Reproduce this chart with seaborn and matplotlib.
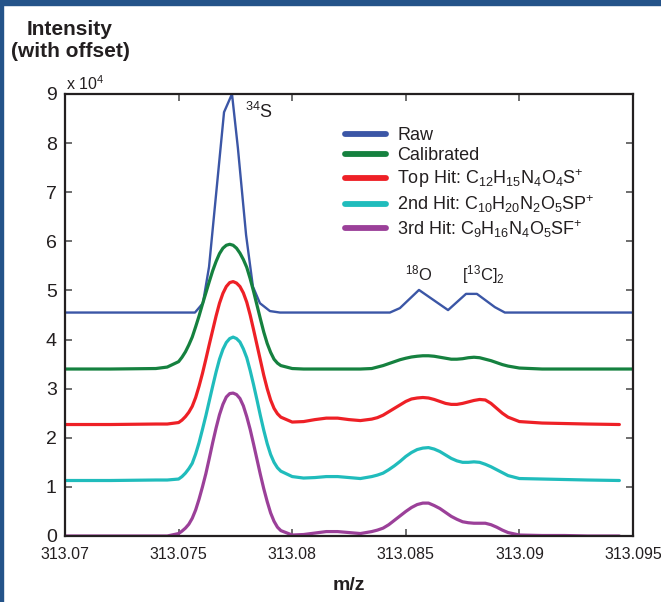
import matplotlib
matplotlib.use("Agg")
import matplotlib.pyplot as plt
from matplotlib import font_manager
from matplotlib.patches import Rectangle
import seaborn as sns
import pandas as pd

# ---------------- data ----------------
raw_x = [313.0700, 313.07572, 313.07607, 313.07634, 313.07700, 313.07735, 313.07761,
         313.07797, 313.07827, 313.07858, 313.07902, 313.07946, 313.08430, 313.08474,
         313.08558, 313.08686, 313.08765, 313.08813, 313.08892, 313.08936, 313.0950]
raw_y = [4.55, 4.55, 4.74, 5.48, 8.63, 9.00, 7.90,
         6.13, 5.08, 4.74, 4.58, 4.55, 4.55, 4.64,
         5.01, 4.60, 4.93, 4.93, 4.66, 4.55, 4.55]

mz = [313.0700, 313.0720, 313.0740, 313.0745, 313.0750,
      313.07515, 313.0753, 313.07545, 313.0756, 313.07575, 313.0759, 313.07605, 313.0762,
      313.07635, 313.0765, 313.07665, 313.0768, 313.07695, 313.0771, 313.07725, 313.0774,
      313.07755, 313.0777, 313.07785, 313.0780, 313.07815, 313.0783, 313.07845, 313.0786,
      313.07875, 313.0789, 313.07905, 313.0792, 313.07935, 313.0795,
      313.0800, 313.0805, 313.0810, 313.0815, 313.0820, 313.0825, 313.0830, 313.0835,
      313.08375, 313.0840, 313.08425, 313.0845, 313.08475, 313.0850, 313.08525, 313.0855,
      313.08575, 313.0860, 313.08625, 313.0865, 313.08675, 313.0870, 313.08725, 313.0875,
      313.08775, 313.0880, 313.08825, 313.0885, 313.08875, 313.0890, 313.08925, 313.0895,
      313.0900, 313.0910, 313.0920, 313.0930, 313.0944, 313.0950]

calibrated = [3.40, 3.40, 3.41, 3.44, 3.55,
              3.64, 3.75, 3.89, 4.05, 4.26, 4.48, 4.72, 4.95, 5.18, 5.40, 5.59, 5.75,
              5.86, 5.92, 5.94, 5.92, 5.86, 5.76, 5.63, 5.47, 5.24, 4.98, 4.70, 4.42,
              4.15, 3.92, 3.74, 3.60, 3.52, 3.47,
              3.41, 3.40, 3.40, 3.40, 3.40, 3.40, 3.40, 3.41,
              3.44, 3.47, 3.51, 3.55, 3.59, 3.62, 3.645, 3.66, 3.67, 3.67, 3.66, 3.64,
              3.62, 3.60, 3.60, 3.61, 3.63, 3.64, 3.63, 3.60, 3.57, 3.53, 3.49, 3.46,
              3.42, 3.40, 3.40, 3.40, 3.40, 3.40]
top_hit = [2.27, 2.27, 2.28, 2.28, 2.31,
           2.36, 2.43, 2.52, 2.64, 2.82, 3.05, 3.31, 3.60, 3.90, 4.19, 4.48, 4.74,
           4.94, 5.08, 5.16, 5.18, 5.15, 5.08, 4.95, 4.76, 4.50, 4.20, 3.89, 3.58,
           3.27, 3.00, 2.77, 2.60, 2.49, 2.42,
           2.32, 2.33, 2.37, 2.40, 2.40, 2.37, 2.35, 2.38,
           2.41, 2.46, 2.53, 2.60, 2.67, 2.74, 2.79, 2.81, 2.82, 2.81, 2.78, 2.74,
           2.70, 2.68, 2.68, 2.70, 2.73, 2.76, 2.78, 2.77, 2.70, 2.60, 2.50, 2.42,
           2.33, 2.30, 2.29, 2.28, 2.27]
second_hit = [1.13, 1.13, 1.14, 1.14, 1.16,
              1.21, 1.28, 1.37, 1.48, 1.67, 1.90, 2.17, 2.45, 2.75, 3.05, 3.34, 3.60,
              3.80, 3.94, 4.02, 4.05, 4.02, 3.95, 3.81, 3.63, 3.37, 3.08, 2.77, 2.45,
              2.15, 1.88, 1.66, 1.50, 1.39, 1.32,
              1.21, 1.18, 1.19, 1.21, 1.21, 1.19, 1.17, 1.21,
              1.24, 1.28, 1.35, 1.43, 1.52, 1.62, 1.70, 1.76, 1.79, 1.80, 1.77, 1.72,
              1.65, 1.58, 1.53, 1.50, 1.50, 1.51, 1.50, 1.46, 1.41, 1.35, 1.29, 1.23,
              1.17, 1.16, 1.15, 1.14, 1.13]
third_hit = [0.00, 0.00, 0.00, 0.00, 0.05,
             0.10, 0.16, 0.24, 0.36, 0.53, 0.75, 1.00, 1.27, 1.58, 1.90, 2.20, 2.47,
             2.68, 2.83, 2.90, 2.91, 2.88, 2.80, 2.65, 2.43, 2.17, 1.87, 1.56, 1.25,
             0.96, 0.70, 0.47, 0.30, 0.18, 0.11,
             0.02, 0.03, 0.06, 0.09, 0.09, 0.07, 0.05, 0.09,
             0.12, 0.16, 0.23, 0.32, 0.41, 0.50, 0.58, 0.64, 0.67, 0.67, 0.62, 0.56,
             0.48, 0.40, 0.34, 0.29, 0.27, 0.26, 0.26, 0.26, 0.23, 0.18, 0.12, 0.07,
             0.02, 0.01, 0.01, 0.00, 0.00]

labels = ["Raw", "Calibrated",
          r"Top Hit: C$_{12}$H$_{15}$N$_{4}$O$_{4}$S$^{+}$",
          r"2nd Hit: C$_{10}$H$_{20}$N$_{2}$O$_{5}$SP$^{+}$",
          r"3rd Hit: C$_{9}$H$_{16}$N$_{4}$O$_{5}$SF$^{+}$"]
colors = ["#3b56a6", "#15813f", "#ee2026", "#20bcbc", "#9b4099"]

xticks = [313.07, 313.075, 313.08, 313.085, 313.09, 313.095]
xtick_labels = ["313.07", "313.075", "313.08", "313.085", "313.09", "313.095"]
yticks = [0, 1, 2, 3, 4, 5, 6, 7, 8, 9]

# ---------------- style ----------------
sns.set_style("ticks")
avail = {f.name for f in font_manager.fontManager.ttflist}
main_font = "Liberation Sans" if "Liberation Sans" in avail else "DejaVu Sans"
plt.rcParams["font.family"] = [main_font, "DejaVu Sans"]
plt.rcParams["mathtext.fontset"] = "custom"
plt.rcParams["mathtext.rm"] = main_font
plt.rcParams["mathtext.it"] = main_font + ":italic"
plt.rcParams["mathtext.bf"] = main_font + ":bold"
plt.rcParams["mathtext.default"] = "regular"
txt = "#231f20"

fig = plt.figure(figsize=(6.61, 6.02), dpi=100)
ax = fig.add_axes([65 / 661, 1 - 536 / 602, 568 / 661, 442 / 602])

# blue frame
fig.patches.append(Rectangle((0, 1 - 5 / 602), 1, 5 / 602, transform=fig.transFigure,
                             color="#245389", zorder=0))
fig.patches.append(Rectangle((0, 0), 3 / 661, 1, transform=fig.transFigure,
                             color="#245389", zorder=0))

series = [
    (raw_x, raw_y, 1.7),
    (mz, calibrated, 2.3),
    (mz[:len(top_hit)], top_hit, 2.3),
    (mz[:len(second_hit)], second_hit, 2.3),
    (mz[:len(third_hit)], third_hit, 2.3),
]
for (xs, ys, lw), lab, col in zip(series, labels, colors):
    df = pd.DataFrame({"mz": xs, "intensity": ys})
    sns.lineplot(data=df, x="mz", y="intensity", ax=ax, color=col, linewidth=lw,
                 sort=False, estimator=None, label=lab)

ax.set_xlim(313.07, 313.095)
ax.set_ylim(0, 9)
ax.set_xticks(xticks)
ax.set_xticklabels(xtick_labels, fontsize=11.5, color=txt)
ax.set_yticks(yticks)
ax.set_yticklabels([str(v) for v in yticks], fontsize=14, color=txt)
ax.tick_params(axis="x", pad=8)
ax.tick_params(axis="y", pad=6)
ax.tick_params(direction="in", length=5, width=1.2, top=True, right=True,
               color="#555555")
for s in ax.spines.values():
    s.set_linewidth(1.6)
    s.set_color("#231f20")
ax.set_xlabel("m/z", fontsize=14, fontweight="bold", color=txt, labelpad=11)
ax.set_ylabel("")

leg = ax.legend(loc="upper left", bbox_to_anchor=(0.477, 0.945), frameon=False,
                fontsize=13, handlelength=2.3, handletextpad=0.6, labelspacing=0.17,
                borderpad=0.0)
for h in leg.get_lines():
    h.set_linewidth(4.2)
    h.set_solid_capstyle("round")
for t in leg.get_texts():
    t.set_color(txt)

# annotations
ax.text(313.07792, 8.51, r"$^{34}$S", fontsize=13, color=txt, va="baseline", ha="left")
ax.text(313.08496, 5.21, r"$^{18}$O", fontsize=12, color=txt, va="baseline", ha="left")
ax.text(313.08747, 5.21, r"[$^{13}$C]$_{2}$", fontsize=12, color=txt, va="baseline",
        ha="left")

fig.text(70 / 661, 1 - 35 / 602, "Intensity", fontsize=15, fontweight="bold", color=txt,
         ha="center", va="baseline")
fig.text(70 / 661, 1 - 57 / 602, "(with offset)", fontsize=15, fontweight="bold",
         color=txt, ha="center", va="baseline")
fig.text(66 / 661, 1 - 90 / 602, r"x 10$^{4}$", fontsize=11.5, color=txt, ha="left",
         va="baseline")

fig.savefig("out.png", dpi=100)
